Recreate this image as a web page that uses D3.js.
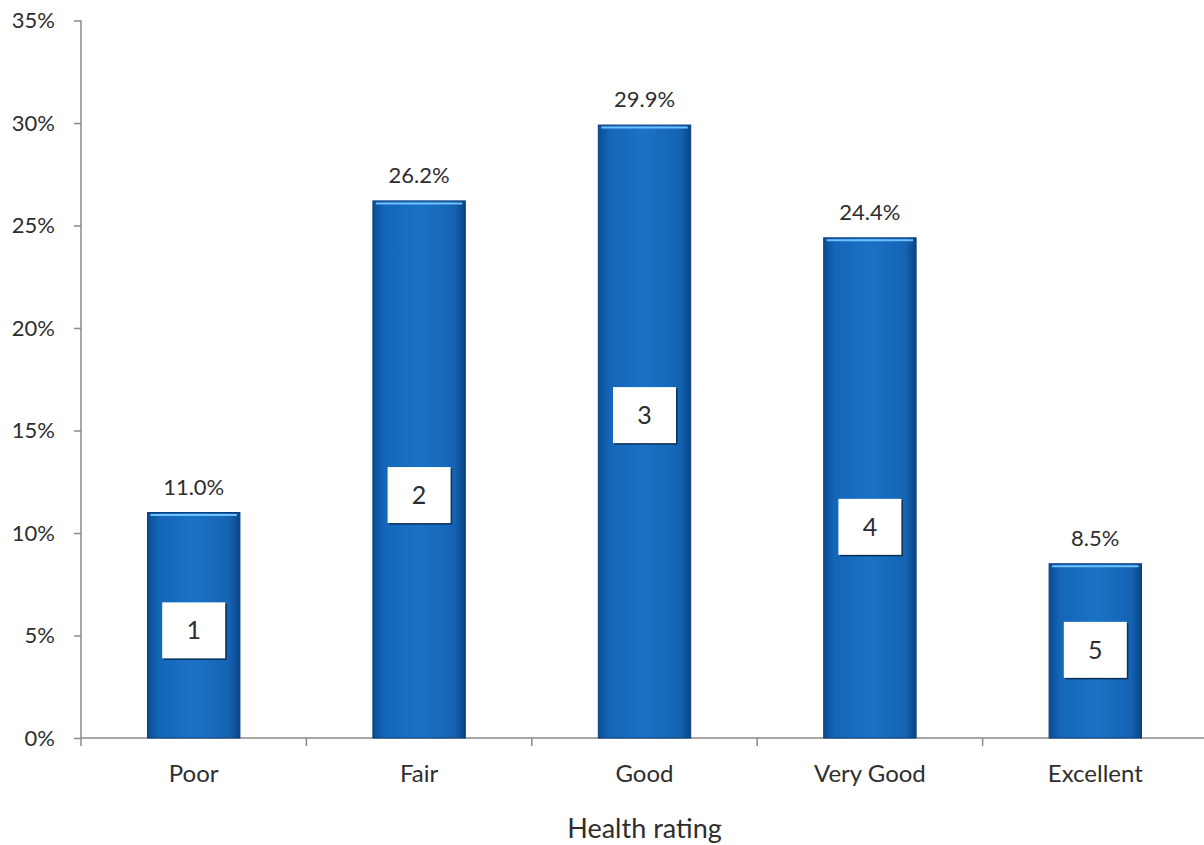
<!DOCTYPE html>
<html>
<head>
<meta charset="utf-8">
<script src="https://cdn.jsdelivr.net/npm/d3@7"></script>
<style>
  html, body { margin: 0; padding: 0; background: #fff; }
  svg { display: block; }
  text { font-family: Lato, "Open Sans", sans-serif; fill: #2e2e2e; }
</style>
</head>
<body>
<svg id="chart" width="1204" height="845"></svg>
<script>
// Self-rated health distribution
const categories = ["Poor", "Fair", "Good", "Very Good", "Excellent"];
const shares = [11.0, 26.2, 29.9, 24.4, 8.5];            // percent of respondents
const ratingCodes = ["1", "2", "3", "4", "5"];
const codeLevels = [5.25, 11.85, 15.75, 10.3, 4.3];       // where each code badge sits, in percent units
const yTicks = [0, 5, 10, 15, 20, 25, 30, 35];
const xTitle = "Health rating";

const svg = d3.select("#chart");
const plotLeft = 81, plotRight = 1208, plotTop = 20.5, plotBottom = 738;
const FONT = "Lato, 'Open Sans', sans-serif";
const INK = "#2e2e2e";

const x = d3.scaleBand().domain(categories).range([plotLeft, plotRight]).padding(0);
const y = d3.scaleLinear().domain([0, 35]).range([plotBottom, plotTop]);
const barW = x.bandwidth() * 0.41;

// bar fill gradient
const defs = svg.append("defs");
const g = defs.append("linearGradient").attr("id", "barFill").attr("x1", 0).attr("x2", 1).attr("y1", 0).attr("y2", 0);
g.append("stop").attr("offset", "0%").attr("stop-color", "#0b4c95");
g.append("stop").attr("offset", "12%").attr("stop-color", "#1466b8");
g.append("stop").attr("offset", "50%").attr("stop-color", "#1a72c6");
g.append("stop").attr("offset", "88%").attr("stop-color", "#1564b4");
g.append("stop").attr("offset", "100%").attr("stop-color", "#0a4487");

// y axis
const yAxis = svg.append("g")
  .attr("transform", `translate(${plotLeft},0)`)
  .call(d3.axisLeft(y).tickValues(yTicks).tickFormat(d => d + "%").tickSize(7).tickSizeOuter(0));
yAxis.select(".domain").attr("stroke", "#8a8a8a").attr("stroke-width", 1.5)
  .attr("d", `M0,${plotTop}V${plotBottom + 8}`);
yAxis.selectAll(".tick line").attr("stroke", "#8a8a8a").attr("stroke-width", 1.5);
yAxis.selectAll(".tick text").attr("x", -26).attr("font-size", 22).attr("fill", INK)
  .style("font-family", FONT);

// x axis
const xAxis = svg.append("g")
  .attr("transform", `translate(0,${plotBottom})`)
  .call(d3.axisBottom(x).tickSize(0).tickPadding(27));
xAxis.select(".domain").attr("stroke", "#8a8a8a").attr("stroke-width", 1.5)
  .attr("d", `M${plotLeft},0H1204`);
xAxis.selectAll(".tick text").attr("font-size", 24).attr("fill", INK)
  .style("font-family", FONT);
// band separators
xAxis.selectAll(".sep").data(categories.slice(1)).join("line")
  .attr("x1", d => x(d)).attr("x2", d => x(d))
  .attr("y1", 0).attr("y2", 8)
  .attr("stroke", "#8a8a8a").attr("stroke-width", 1.5);

// axis title
svg.append("text")
  .attr("x", x("Good") + x.bandwidth() / 2).attr("y", 838)
  .attr("text-anchor", "middle").attr("font-size", 27).attr("fill", INK)
  .text(xTitle);

const rows = categories.map((c, i) => ({ c, v: shares[i], code: ratingCodes[i], lvl: codeLevels[i] }));

// bars
const bars = svg.append("g").selectAll("g").data(rows).join("g");
bars.append("rect")
  .attr("x", d => x(d.c) + (x.bandwidth() - barW) / 2)
  .attr("y", d => y(d.v))
  .attr("width", barW)
  .attr("height", d => plotBottom - y(d.v))
  .attr("fill", "url(#barFill)")
  .attr("stroke", "#0a3f7c").attr("stroke-width", 1);
// top highlight
bars.append("line")
  .attr("x1", d => x(d.c) + (x.bandwidth() - barW) / 2 + 3)
  .attr("x2", d => x(d.c) + (x.bandwidth() + barW) / 2 - 3)
  .attr("y1", d => y(d.v) + 2.5).attr("y2", d => y(d.v) + 2.5)
  .attr("stroke", "#6fc0ff").attr("stroke-width", 2);

// value labels
bars.append("text")
  .attr("x", d => x(d.c) + x.bandwidth() / 2)
  .attr("y", d => y(d.v) - 18)
  .attr("text-anchor", "middle").attr("font-size", 22).attr("fill", INK)
  .text(d => d.v.toFixed(1) + "%");

// rating code badges
const bw = 63, bh = 56;
bars.append("rect")
  .attr("x", d => x(d.c) + x.bandwidth() / 2 - bw / 2 + 1.5)
  .attr("y", d => y(d.lvl) - bh / 2 + 1.5)
  .attr("width", bw).attr("height", bh)
  .attr("fill", "#0b2f57");
bars.append("rect")
  .attr("x", d => x(d.c) + x.bandwidth() / 2 - bw / 2)
  .attr("y", d => y(d.lvl) - bh / 2)
  .attr("width", bw).attr("height", bh)
  .attr("fill", "#fff");
bars.append("text")
  .attr("x", d => x(d.c) + x.bandwidth() / 2)
  .attr("y", d => y(d.lvl) + 9)
  .attr("text-anchor", "middle").attr("font-size", 25).attr("fill", "#222")
  .text(d => d.code);
</script>
</body>
</html>
